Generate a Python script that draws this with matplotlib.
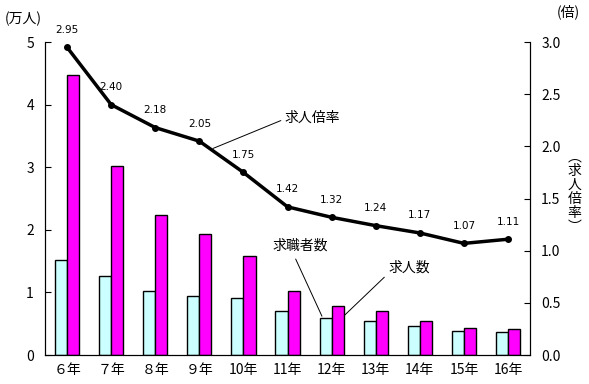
import matplotlib
matplotlib.use("Agg")
import matplotlib.pyplot as plt
import numpy as np

plt.rcParams['font.family'] = ['Noto Sans CJK JP', 'DejaVu Sans']

years = ["６年", "７年", "８年", "９年", "10年", "11年", "12年", "13年", "14年", "15年", "16年"]
seekers = [1.51, 1.26, 1.02, 0.94, 0.91, 0.71, 0.59, 0.55, 0.46, 0.39, 0.36]   # 求職者数 (万人)
openings = [4.48, 3.02, 2.24, 1.93, 1.58, 1.02, 0.78, 0.70, 0.54, 0.43, 0.41]  # 求人数 (万人)
ratio = [2.95, 2.40, 2.18, 2.05, 1.75, 1.42, 1.32, 1.24, 1.17, 1.07, 1.11]      # 求人倍率

fig = plt.figure(figsize=(5.89, 3.84), dpi=100)
ax = fig.add_axes([0.0764, 0.0755, 0.8236, 0.815])
x = np.arange(len(years))
w = 0.275
ax.bar(x - w/2, seekers, w, color="#ccffff", edgecolor="black", linewidth=1)
ax.bar(x + w/2, openings, w, color="#ff00ff", edgecolor="black", linewidth=1)
ax.set_xlim(-0.5, len(years) - 0.5)
ax.set_ylim(0, 5)
ax.set_yticks(range(6))
ax.set_xticks(x)
ax.set_xticklabels(years, fontsize=10)
ax.tick_params(axis='y', direction='in', length=4, labelsize=10, pad=8)
ax.tick_params(axis='x', length=0, pad=6)
ax.spines['top'].set_visible(False)

ax2 = ax.twinx()
ax2.plot(x, ratio, color="black", linewidth=2.5, marker="o", markersize=4)
ax2.set_ylim(0, 3)
ax2.set_yticks(np.arange(0, 3.01, 0.5))
ax2.set_yticklabels([f"{v:.1f}" for v in np.arange(0, 3.01, 0.5)])
ax2.tick_params(axis='y', direction='in', length=4, labelsize=10, pad=8)
ax2.spines['top'].set_visible(False)
for xi, r in zip(x, ratio):
    ax2.annotate(f"{r:.2f}", (xi, r), xytext=(0, 9), textcoords="offset points",
                 ha="center", va="bottom", fontsize=7.5, family="DejaVu Sans")

fig.text(0.008, 0.952, "(万人)", fontsize=10, va="center")
fig.text(0.945, 0.97, "(倍)", fontsize=10, va="center")
fig.text(0.975, 0.5, "︵\n求\n人\n倍\n率\n︶", fontsize=10, ha="center", va="center",
         linespacing=1.0)

ax2.annotate("求人倍率", xy=(3.31, 1.98), xytext=(4.94, 2.27), fontsize=10,
             va="center", arrowprops=dict(arrowstyle="-", color="black", lw=0.7,
                                           shrinkA=1, shrinkB=0, relpos=(0, 0.45)))
ax.annotate("求職者数", xy=(5.78, 0.62), xytext=(4.65, 1.75), fontsize=10,
            va="center", arrowprops=dict(arrowstyle="-", color="black", lw=0.7,
                                          shrinkA=3, shrinkB=0, relpos=(0.37, 0)))
ax.annotate("求人数", xy=(6.3, 0.64), xytext=(7.28, 1.39), fontsize=10,
            va="center", arrowprops=dict(arrowstyle="-", color="black", lw=0.7,
                                          shrinkA=1, shrinkB=0, relpos=(0, 0.1)))

fig.savefig("out.png", dpi=100)
